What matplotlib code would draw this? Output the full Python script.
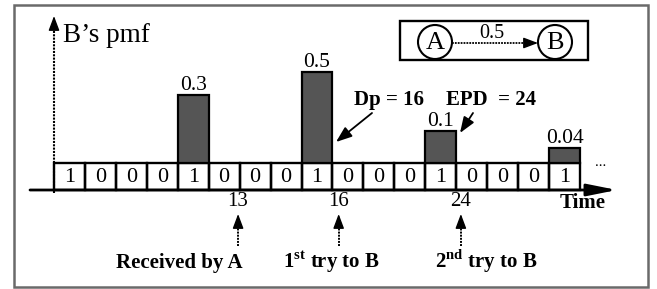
import numpy as np
import matplotlib
matplotlib.use("Agg")
import matplotlib.pyplot as plt
from matplotlib.patches import Rectangle, Circle
from matplotlib.transforms import blended_transform_factory

plt.rcParams['font.family'] = ['Liberation Serif', 'DejaVu Serif']
plt.rcParams['mathtext.fontset'] = 'custom'
plt.rcParams['mathtext.rm'] = 'Liberation Serif'
plt.rcParams['mathtext.bf'] = 'Liberation Serif:bold'

# ---------------- data ----------------
cell_values = [1, 0, 0, 0, 1, 0, 0, 0, 1, 0, 0, 0, 1, 0, 0, 0, 1]
pmf_slots = [4, 8, 12, 16]
pmf_values = [0.3, 0.5, 0.1, 0.04]
pmf_labels = ['0.3', '0.5', '0.1', '0.04']
time_tick_labels = ['13', '16', '24']
time_tick_slots = [5.45, 8.7, 12.65]
event_labels = ['Received by A', r'1$^{\mathbf{st}}$ try to B', r'2$^{\mathbf{nd}}$ try to B']
event_centers = [179, 331, 486]
link_prob = '0.5'

W, H = 657, 289
fig = plt.figure(figsize=(W / 100, H / 100), dpi=100)
fig.patch.set_facecolor('white')

bg = fig.add_axes([0, 0, 1, 1])
bg.set_xlim(0, W)
bg.set_ylim(H, 0)
bg.axis('off')

x0, x1 = 54, 580
y_base, y_top = 163, 72
ax = fig.add_axes([x0 / W, 1 - y_base / H, (x1 - x0) / W, (y_base - y_top) / H])
ax.set_xlim(-0.5, len(cell_values) - 0.5)
C = 0.15
def fwd(p):
    p = np.asarray(p, dtype=float)
    return np.sign(p) * np.log1p(np.abs(p) / C)
def inv(q):
    q = np.asarray(q, dtype=float)
    return np.sign(q) * np.expm1(np.abs(q)) * C
ax.set_yscale('function', functions=(fwd, inv))
ax.set_ylim(0, 0.5)
ax.axis('off')
ax.patch.set_alpha(0)

ax.bar(pmf_slots, pmf_values, width=1.0, color='#555555', edgecolor='black',
       linewidth=1.6, clip_on=False, zorder=3)
for s, v, lab in zip(pmf_slots, pmf_values, pmf_labels):
    ax.annotate(lab, xy=(s, v), xytext=(0, 3.8), textcoords='offset points',
                ha='center', va='baseline', fontsize=15.5, annotation_clip=False)

# outer frame
bg.add_patch(Rectangle((14, 5), 634, 282, fill=False, edgecolor='#6a6a6a', lw=1.8))

# cells
tr = blended_transform_factory(ax.transData, bg.transData)
for i, v in enumerate(cell_values):
    bg.add_patch(Rectangle((i - 0.5, y_base), 1.0, 27, transform=tr, fill=False,
                           edgecolor='black', lw=1.7, zorder=4))
    bg.text(i, 177, str(v), transform=tr, ha='center', va='center', fontsize=16, zorder=5)

dot = (0, (1.0, 0.6))
head = dict(lw=1, color='black', shrinkA=0, shrinkB=0)

# time axis
bg.annotate('', xy=(617, 190), xytext=(30, 190),
            arrowprops=dict(arrowstyle='-|>,head_length=1.0,head_width=0.2',
                            lw=2, color='black', mutation_scale=18, shrinkA=0, shrinkB=0))
bg.text(583, 203, 'Time', ha='center', va='center', fontsize=15, fontweight='bold')
bg.text(601, 162, '...', ha='center', va='center', fontsize=11)

# y axis
bg.plot([54, 54], [193, 26], color='black', lw=1.5, ls=dot)
bg.annotate('', xy=(54, 16), xytext=(54, 27),
            arrowprops=dict(arrowstyle='-|>,head_length=0.8,head_width=0.3',
                            mutation_scale=11, **head))
bg.text(63, 42, 'B\u2019s pmf', ha='left', va='baseline', fontsize=19.5)

# time tick labels and event arrows
for s, lab, ev, cx in zip(time_tick_slots, time_tick_labels, event_labels, event_centers):
    bg.text(s, 202, lab, transform=tr, ha='center', va='center', fontsize=15)
    bg.plot([s, s], [246, 222], transform=tr, color='black', lw=1.4, ls=dot)
    bg.annotate('', xy=(s, 214), xytext=(s, 223), xycoords=tr, textcoords=tr,
                arrowprops=dict(arrowstyle='-|>,head_length=0.8,head_width=0.3',
                                mutation_scale=11, **head))
    bg.text(cx, 268, ev, ha='center', va='baseline', fontsize=15, fontweight='bold')

# Dp / EPD annotations
bg.text(389, 100, 'Dp = 16', ha='center', va='center', fontsize=15, fontweight='bold')
bg.text(491, 100, 'EPD  = 24', ha='center', va='center', fontsize=15, fontweight='bold')
bg.annotate('', xy=(336, 142), xytext=(372, 113),
            arrowprops=dict(arrowstyle='-|>,head_length=0.8,head_width=0.3',
                            lw=1.3, color='black', mutation_scale=12, shrinkA=0, shrinkB=0))
bg.annotate('', xy=(460, 133), xytext=(473, 113),
            arrowprops=dict(arrowstyle='-|>,head_length=0.8,head_width=0.3',
                            lw=1.3, color='black', mutation_scale=12, shrinkA=0, shrinkB=0))

# A -> B box
bg.add_patch(Rectangle((400, 21), 188, 39, fill=False, edgecolor='black', lw=1.7))
for cx, lab in [(435, 'A'), (555, 'B')]:
    bg.add_patch(Circle((cx, 42), 17, fill=False, edgecolor='black', lw=1.5))
    bg.text(cx, 43, lab, ha='center', va='center', fontsize=19)
bg.plot([452, 530], [43, 43], color='black', lw=1.3, ls=dot)
bg.annotate('', xy=(538, 43), xytext=(529, 43),
            arrowprops=dict(arrowstyle='-|>,head_length=0.8,head_width=0.3',
                            mutation_scale=11, **head))
bg.text(492, 33, link_prob, ha='center', va='center', fontsize=14.5)

fig.savefig('out.png', dpi=100, facecolor='white')
